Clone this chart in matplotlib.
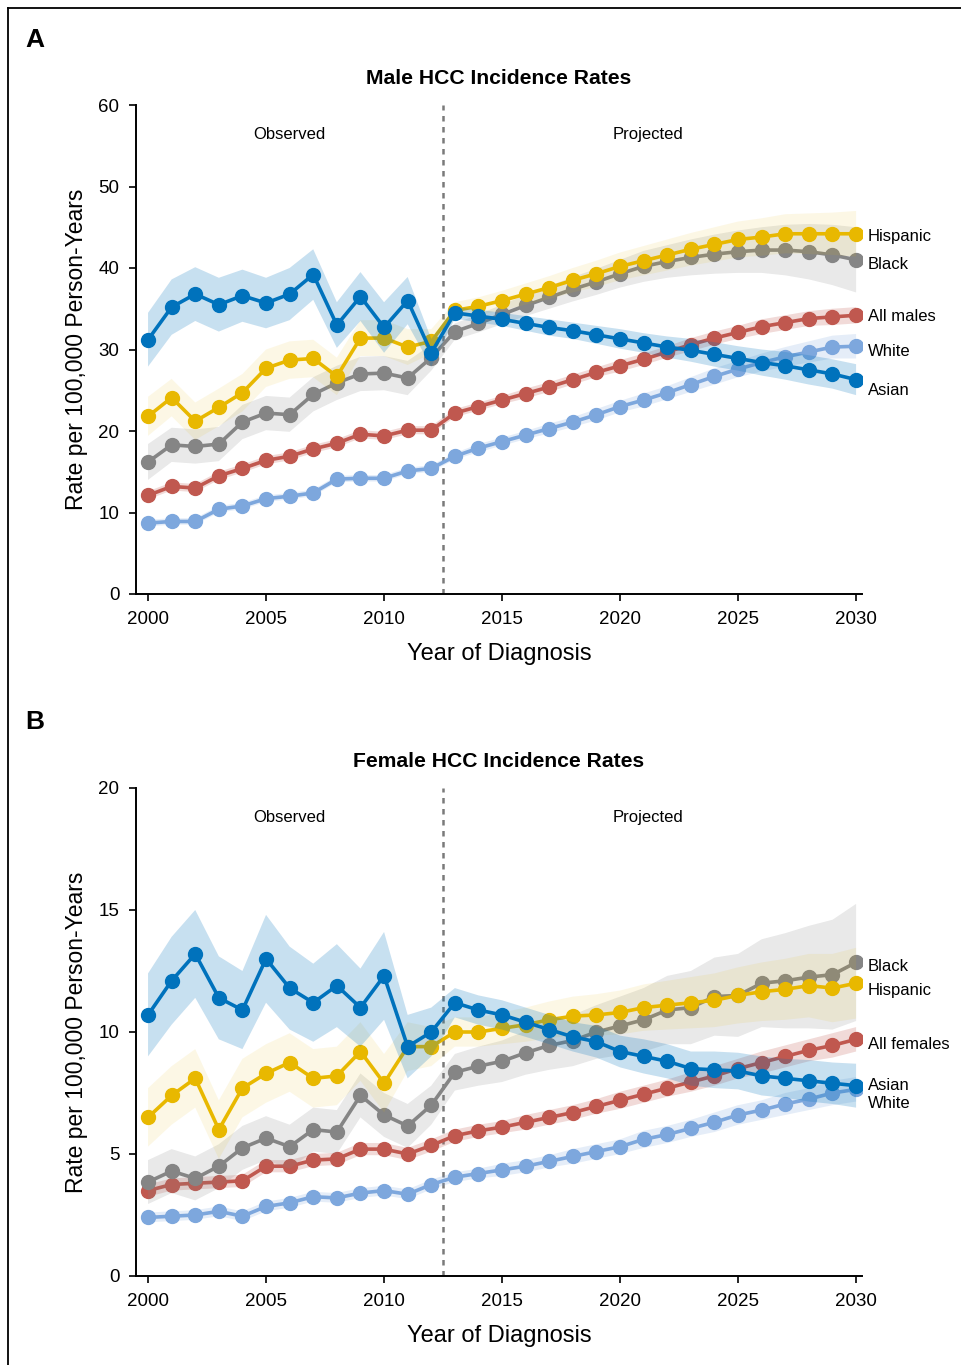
import matplotlib
matplotlib.use("Agg")
import matplotlib.pyplot as plt
import numpy as np

# years 2000-2012 observed, 2013-2030 projected
years = list(range(2000, 2031))
split_year = 2012.5

# ---------------- male rates (per 100,000) ----------------
m_asian = [31.2, 35.2, 36.8, 35.5, 36.6, 35.7, 36.8, 39.2, 33.0, 36.5, 32.7, 36.0, 29.6,
           34.5, 34.1, 33.7, 33.2, 32.7, 32.3, 31.8, 31.3, 30.8, 30.3, 29.9, 29.4, 28.9,
           28.4, 28.0, 27.5, 27.0, 26.3]
m_hisp = [21.8, 24.1, 21.2, 22.9, 24.7, 27.7, 28.7, 28.9, 26.7, 31.4, 31.4, 30.3, 31.0,
          34.8, 35.3, 36.0, 36.8, 37.6, 38.5, 39.3, 40.2, 40.9, 41.6, 42.3, 42.9, 43.5,
          43.8, 44.2, 44.2, 44.2, 44.2]
m_black = [16.2, 18.3, 18.1, 18.4, 21.1, 22.2, 22.0, 24.5, 25.9, 27.0, 27.1, 26.5, 29.0,
           32.2, 33.2, 34.3, 35.4, 36.4, 37.4, 38.3, 39.3, 40.2, 40.8, 41.3, 41.7, 42.0,
           42.2, 42.2, 42.0, 41.6, 41.0]
m_all = [12.1, 13.2, 13.0, 14.5, 15.4, 16.4, 16.9, 17.8, 18.5, 19.6, 19.4, 20.1, 20.1,
         22.2, 23.0, 23.8, 24.6, 25.4, 26.3, 27.2, 28.0, 28.8, 29.7, 30.6, 31.4, 32.1,
         32.8, 33.3, 33.8, 34.0, 34.2]
m_white = [8.7, 8.9, 8.9, 10.4, 10.8, 11.7, 12.0, 12.4, 14.1, 14.2, 14.2, 15.1, 15.4,
           16.9, 17.9, 18.7, 19.5, 20.3, 21.1, 22.0, 23.0, 23.8, 24.7, 25.7, 26.7, 27.6,
           28.4, 29.1, 29.7, 30.3, 30.4]

# half-width of the shaded band
m_asian_err = [3.3, 3.4, 3.3, 3.3, 3.2, 3.1, 3.2, 3.1, 2.8, 3.0, 3.1, 2.9, 1.7,
               0.7, 0.8, 0.8, 0.9, 1.0, 1.0, 1.1, 1.2, 1.2, 1.3, 1.4, 1.5, 1.5,
               1.6, 1.7, 1.8, 1.8, 1.9]
m_hisp_err = [2.4, 2.3, 2.3, 2.3, 2.3, 2.3, 2.3, 2.3, 2.3, 2.2, 2.2, 2.2, 1.5,
              1.0, 1.1, 1.2, 1.3, 1.4, 1.5, 1.6, 1.7, 1.8, 1.9, 2.0, 2.1, 2.2,
              2.3, 2.4, 2.5, 2.6, 2.8]
m_black_err = [2.2, 2.1, 2.1, 2.1, 2.1, 2.1, 2.1, 2.1, 2.1, 2.1, 2.1, 2.1, 1.6,
               1.0, 1.1, 1.2, 1.3, 1.4, 1.5, 1.6, 1.7, 1.9, 2.0, 2.2, 2.4, 2.6,
               2.8, 3.1, 3.4, 3.7, 4.0]
m_all_err = [0.5, 0.5, 0.5, 0.5, 0.5, 0.5, 0.5, 0.5, 0.5, 0.5, 0.5, 0.5, 0.5,
             0.5, 0.5, 0.5, 0.6, 0.6, 0.6, 0.6, 0.7, 0.7, 0.7, 0.8, 0.8, 0.8,
             0.9, 0.9, 0.9, 1.0, 1.0]
m_white_err = [0.4, 0.4, 0.4, 0.4, 0.4, 0.4, 0.4, 0.4, 0.4, 0.4, 0.4, 0.4, 0.4,
               0.4, 0.5, 0.5, 0.5, 0.6, 0.6, 0.7, 0.7, 0.8, 0.8, 0.9, 1.0, 1.0,
               1.1, 1.2, 1.3, 1.4, 1.5]

# ---------------- female rates (per 100,000) ----------------
f_asian = [10.7, 12.1, 13.2, 11.4, 10.9, 13.0, 11.8, 11.2, 11.9, 11.0, 12.3, 9.4, 10.0,
           11.2, 10.9, 10.7, 10.4, 10.1, 9.8, 9.6, 9.2, 9.0, 8.8, 8.5, 8.45, 8.4,
           8.2, 8.1, 8.0, 7.9, 7.8]
f_hisp = [6.5, 7.4, 8.1, 6.0, 7.7, 8.3, 8.75, 8.1, 8.2, 9.2, 7.9, 9.4, 9.4,
          10.0, 10.0, 10.15, 10.3, 10.5, 10.65, 10.7, 10.8, 11.0, 11.1, 11.2, 11.3, 11.5,
          11.65, 11.75, 11.9, 11.8, 12.0]
f_black = [3.85, 4.3, 4.0, 4.5, 5.25, 5.65, 5.3, 6.0, 5.9, 7.4, 6.6, 6.15, 7.0,
           8.35, 8.6, 8.8, 9.15, 9.45, 9.65, 10.0, 10.25, 10.5, 10.9, 11.0, 11.45, 11.5,
           12.0, 12.1, 12.25, 12.35, 12.85]
f_all = [3.5, 3.75, 3.8, 3.85, 3.9, 4.5, 4.5, 4.75, 4.8, 5.2, 5.2, 5.0, 5.35,
         5.75, 5.95, 6.1, 6.3, 6.5, 6.7, 6.95, 7.2, 7.45, 7.7, 7.95, 8.2, 8.5,
         8.75, 9.0, 9.25, 9.45, 9.7]
f_white = [2.4, 2.45, 2.5, 2.65, 2.45, 2.85, 3.0, 3.25, 3.2, 3.4, 3.5, 3.35, 3.75,
           4.05, 4.2, 4.35, 4.5, 4.7, 4.9, 5.1, 5.3, 5.6, 5.8, 6.05, 6.3, 6.6,
           6.8, 7.05, 7.25, 7.5, 7.65]

f_asian_err = [1.7, 1.8, 1.8, 1.7, 1.6, 1.8, 1.7, 1.6, 1.7, 1.6, 1.8, 1.3, 1.0,
               0.6, 0.6, 0.6, 0.6, 0.6, 0.6, 0.65, 0.65, 0.7, 0.7, 0.7, 0.75, 0.75,
               0.8, 0.8, 0.85, 0.85, 0.9]
f_hisp_err = [1.2, 1.2, 1.2, 1.2, 1.2, 1.2, 1.2, 1.2, 1.2, 1.2, 1.2, 1.0, 0.8,
              0.6, 0.6, 0.65, 0.7, 0.75, 0.8, 0.85, 0.9, 0.95, 1.0, 1.05, 1.1, 1.15,
              1.2, 1.25, 1.3, 1.4, 1.45]
f_black_err = [0.9, 0.9, 0.9, 0.9, 0.9, 0.9, 0.9, 0.9, 0.9, 0.9, 0.9, 0.9, 0.8,
               0.75, 0.8, 0.85, 0.9, 1.0, 1.05, 1.1, 1.2, 1.3, 1.4, 1.5, 1.6, 1.7,
               1.8, 1.95, 2.1, 2.25, 2.4]
f_all_err = [0.25, 0.25, 0.25, 0.25, 0.25, 0.25, 0.25, 0.25, 0.25, 0.25, 0.25, 0.25, 0.25,
             0.25, 0.25, 0.25, 0.3, 0.3, 0.3, 0.3, 0.35, 0.35, 0.35, 0.4, 0.4, 0.4,
             0.45, 0.45, 0.45, 0.5, 0.5]
f_white_err = [0.2, 0.2, 0.2, 0.2, 0.2, 0.2, 0.2, 0.2, 0.2, 0.2, 0.2, 0.2, 0.2,
               0.2, 0.2, 0.25, 0.25, 0.25, 0.3, 0.3, 0.3, 0.35, 0.35, 0.35, 0.4, 0.4,
               0.4, 0.45, 0.45, 0.5, 0.5]

# label text and y position at the right end of each panel
male_labels = ["Hispanic", "Black", "All males", "White", "Asian"]
male_label_y = [43.9, 40.4, 34.1, 29.8, 25.0]
female_labels = ["Black", "Hispanic", "All females", "Asian", "White"]
female_label_y = [12.7, 11.7, 9.5, 7.8, 7.05]

COLORS = {
    "white": "#7DA7DD",
    "all": "#C0584F",
    "black": "#858585",
    "hisp": "#E8B800",
    "asian": "#0072BC",
}
BAND_ALPHA = {"white": 0.2, "all": 0.22, "black": 0.18, "hisp": 0.10, "asian": 0.22}

SANS = ["Liberation Sans", "DejaVu Sans"]


def draw_panel(ax, series, ymax, yticks, title, labels, label_y):
    '''series: list of (key, values, err) in drawing order'''
    z = 2
    for key, vals, err in series:
        v = np.array(vals)
        e = np.array(err)
        ax.fill_between(years, v - e, v + e, facecolor=COLORS[key],
                        alpha=BAND_ALPHA[key], linewidth=0, zorder=z)
        ax.plot(years, v, color=COLORS[key], lw=2.6, marker="o",
                markersize=10, zorder=z + 1)
        z += 2

    ax.axvline(split_year, color="#7a7a7a", lw=1.8, ls=(0, (2.2, 2.2)), zorder=1)

    ax.set_xlim(1999.49, 2030.25)
    ax.set_ylim(0, ymax)
    ax.set_xticks([2000, 2005, 2010, 2015, 2020, 2025, 2030])
    ax.set_yticks(yticks)
    ax.spines["top"].set_visible(False)
    ax.spines["right"].set_visible(False)
    for s in ("left", "bottom"):
        ax.spines[s].set_linewidth(1.4)
    ax.tick_params(direction="out", length=5, width=1.2, pad=7)
    for lab in ax.get_xticklabels() + ax.get_yticklabels():
        lab.set_family(SANS)
        lab.set_fontsize(13.5)

    ax.set_xlabel("Year of Diagnosis", family=SANS, fontsize=17)
    ax.xaxis.set_label_coords(0.5, -0.1)
    ax.set_ylabel("Rate per 100,000 Person-Years", family=SANS, fontsize=16.5)
    ax.yaxis.set_label_coords(-0.066, 0.5)

    ax.text(0.5, 1.055, title, transform=ax.transAxes, ha="center", va="center",
            family=SANS, fontsize=15.2, fontweight="bold")
    ax.text(2006, ymax * 0.94, "Observed", ha="center", va="center",
            family=SANS, fontsize=12)
    ax.text(2021.2, ymax * 0.94, "Projected", ha="center", va="center",
            family=SANS, fontsize=12)

    for txt, yv in zip(labels, label_y):
        ax.text(2030.5, yv, txt, ha="left", va="center", family=SANS,
                fontsize=12, clip_on=False)


fig = plt.figure(figsize=(9.61, 13.65), dpi=100)

ax_top = fig.add_axes([136 / 961, 1 - 594 / 1365, 726 / 961, 489 / 1365])
ax_bot = fig.add_axes([136 / 961, 1 - 1276 / 1365, 726 / 961, 488 / 1365])

draw_panel(ax_top,
           [("white", m_white, m_white_err), ("all", m_all, m_all_err),
            ("black", m_black, m_black_err), ("hisp", m_hisp, m_hisp_err),
            ("asian", m_asian, m_asian_err)],
           60, [0, 10, 20, 30, 40, 50, 60], "Male HCC Incidence Rates",
           male_labels, male_label_y)

draw_panel(ax_bot,
           [("white", f_white, f_white_err), ("all", f_all, f_all_err),
            ("black", f_black, f_black_err), ("hisp", f_hisp, f_hisp_err),
            ("asian", f_asian, f_asian_err)],
           20, [0, 5, 10, 15, 20], "Female HCC Incidence Rates",
           female_labels, female_label_y)

# panel letters
fig.text(35 / 961, 1 - 40 / 1365, "A", ha="center", va="center", family=SANS,
         fontsize=19, fontweight="bold")
fig.text(35 / 961, 1 - 722 / 1365, "B", ha="center", va="center", family=SANS,
         fontsize=19, fontweight="bold")

# frame line on top and left of the figure
fig.add_artist(plt.Line2D([8 / 961, 1.0], [1 - 8 / 1365, 1 - 8 / 1365],
                          transform=fig.transFigure, color="black", lw=1.3))
fig.add_artist(plt.Line2D([8 / 961, 8 / 961], [0.0, 1 - 8 / 1365],
                          transform=fig.transFigure, color="black", lw=1.3))

fig.savefig("out.png", dpi=100)
